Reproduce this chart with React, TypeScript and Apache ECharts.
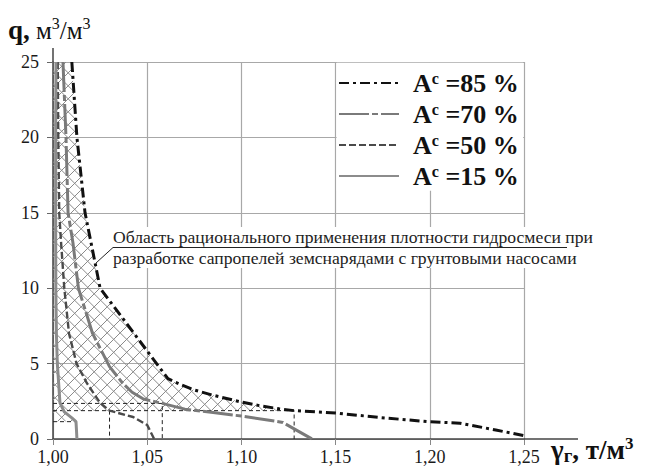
import React, { useEffect, useRef } from 'react';
import * as echarts from 'echarts';

// ---- data ----
const xTicks = [1.0, 1.05, 1.1, 1.15, 1.2, 1.25];
const yTicks = [0, 5, 10, 15, 20, 25];
const shares = ['85', '70', '50', '15'];

const gamma85 = [1.010, 1.0127, 1.017, 1.0223, 1.025, 1.043, 1.061, 1.068, 1.075, 1.085, 1.095, 1.100, 1.110, 1.120, 1.128, 1.150, 1.174, 1.200, 1.216, 1.235, 1.250, 1.256];
const q85 = [25, 20, 15, 11.7, 10, 7, 4.0, 3.6, 3.25, 2.9, 2.6, 2.45, 2.2, 2.0, 1.88, 1.72, 1.42, 1.14, 1.05, 0.6, 0.22, 0];

const gamma70 = [1.0053, 1.0069, 1.008, 1.0106, 1.0135, 1.021, 1.030, 1.037, 1.042, 1.048, 1.058, 1.070, 1.085, 1.100, 1.122, 1.1375];
const q70 = [25, 20, 15, 13, 10, 7, 4.8, 3.7, 3.1, 2.65, 2.36, 1.98, 1.75, 1.52, 1.1, 0];

const gamma50 = [1.0025, 1.0028, 1.0033, 1.0043, 1.006, 1.0085, 1.0125, 1.018, 1.025, 1.030, 1.0425, 1.050, 1.0537];
const q50 = [25, 20, 15, 13, 10, 7, 5, 3.7, 2.4, 1.88, 1.46, 0.93, 0];

const gamma15 = [1.0016, 1.0014, 1.0014, 1.0015, 1.0018, 1.0023, 1.0037, 1.006, 1.010, 1.0122, 1.0125, 1.0127];
const q15 = [25, 20, 15, 10, 7, 5, 2.4, 1.8, 1.4, 1.15, 0.5, 0];

// construction (reference) dashed lines
const refLines = [
  [[1.0, 2.36], [1.058, 2.36], [1.058, 0]],
  [[1.0, 1.88], [1.128, 1.88], [1.128, 0]],
  [[1.03, 1.88], [1.03, 0]],
  [[1.0, 1.15], [1.0122, 1.15]],
];

const annotation = [
  'Область рационального применения плотности гидросмеси при',
  'разработке сапропелей земснарядами с грунтовыми насосами',
];

const zip = (xs: number[], ys: number[]) => xs.map((x, i) => [x, ys[i]]);

// hatched region: left of the 85 % curve, above q = 1.88 (plus small strip near the axis)
const hatchPoly: number[][] = [
  ...zip(gamma85, q85).filter((p) => p[1] >= 1.88),
  [1.0055, 1.88],
  ...zip(gamma15, q15).filter((p) => p[1] < 1.88 && p[1] >= 1.15),
  [1.0, 1.15],
  [1.0, 25],
];

const FONT = '"Liberation Serif", "Times New Roman", serif';
const GL = 53, GT = 62, GR = 524, GB = 439;

export default function App() {
  const ref = useRef<HTMLDivElement>(null);
  useEffect(() => {
    document.body.style.margin = '0';
    const chart = echarts.init(ref.current!, null, { renderer: 'svg' });
    const names = shares.map((s) => `Ac =${s} %`);
    const styles = [
      { color: '#111', width: 3, type: [10, 4, 3, 4] },
      { color: '#7a7a7a', width: 3, type: [30, 3, 6, 3] },
      { color: '#4a4a4a', width: 2.4, type: [7, 3] },
      { color: '#8c8c8c', width: 3, type: 'solid' },
    ];
    const curves = [zip(gamma85, q85), zip(gamma70, q70), zip(gamma50, q50), zip(gamma15, q15)];

    const option: any = {
      animation: false,
      grid: { left: GL, top: GT, right: 646 - GR, bottom: 468 - GB },
      xAxis: {
        type: 'value', min: xTicks[0], max: xTicks[xTicks.length - 1], interval: 0.05,
        axisLine: { show: true, onZero: false, lineStyle: { color: '#444', width: 1.5 } },
        axisTick: { show: true, length: 6, lineStyle: { color: '#888' } },
        axisLabel: {
          margin: 10, fontFamily: FONT, fontSize: 18, lineHeight: 15, color: '#1a1a1a',
          formatter: (v: number) => v.toFixed(2).replace('.', ','),
        },
        splitLine: { show: true, lineStyle: { color: '#a8a8a8', width: 1.2 } },
      },
      yAxis: {
        type: 'value', min: yTicks[0], max: yTicks[yTicks.length - 1], interval: 5,
        axisLine: { show: true, lineStyle: { color: '#444', width: 1.5 } },
        axisTick: { show: true, length: 6, lineStyle: { color: '#666' } },
        axisLabel: { margin: 14, fontFamily: FONT, fontSize: 18, lineHeight: 15, color: '#1a1a1a' },
        splitLine: { show: true, lineStyle: { color: '#a8a8a8', width: 1.2 } },
      },
      legend: {
        data: names, orient: 'vertical', left: 338, top: 70, padding: 0,
        itemWidth: 60, itemHeight: 14, itemGap: 5, z: 10,
        itemStyle: { opacity: 0 },
        formatter: (name: string) => `{a|A}{s|c}{a|${name.slice(2)}}`,
        textStyle: {
          padding: [0, 0, 0, 9],
          rich: {
            a: { fontFamily: FONT, fontWeight: 'bold', fontSize: 26, color: '#111', lineHeight: 26 },
            s: { fontFamily: FONT, fontWeight: 'bold', fontSize: 16, color: '#111', lineHeight: 14, verticalAlign: 'top' },
          },
        },
      },
      series: [
        {
          type: 'custom', name: 'hatch', silent: true, z: 1,
          data: [[1, 0]],
          renderItem: (_p: any, api: any) => {
            const pts = hatchPoly.map((p) => api.coord(p));
            const xs = pts.map((p: number[]) => p[0]);
            const ys = pts.map((p: number[]) => p[1]);
            const minX = Math.min(...xs), maxX = Math.max(...xs);
            const minY = Math.min(...ys), maxY = Math.max(...ys);
            const h = maxY - minY;
            const step = 13;
            const children: any[] = [];
            const st = { stroke: '#8a8a8a', lineWidth: 1 };
            for (let c = minX - h; c < maxX + h; c += step) {
              children.push({ type: 'line', shape: { x1: c, y1: minY, x2: c + h, y2: maxY }, style: st });
              children.push({ type: 'line', shape: { x1: c, y1: maxY, x2: c + h, y2: minY }, style: st });
            }
            return { type: 'group', clipPath: { type: 'polygon', shape: { points: pts } }, children };
          },
        },
        ...refLines.map((d) => ({
          type: 'line', data: d, symbol: 'none', silent: true, z: 2,
          lineStyle: { color: '#222', width: 1, type: [4, 3] },
        })),
        ...curves.map((d, i) => ({
          type: 'line', name: names[i], data: d, symbol: 'none', showSymbol: false, z: 3 + i,
          lineStyle: styles[i], itemStyle: { color: styles[i].color },
        })),
      ],
      graphic: [
        { type: 'line', shape: { x1: GL, y1: 48, x2: GL, y2: GT }, style: { stroke: '#444', lineWidth: 1.5 }, z: 3 },
        { type: 'line', shape: { x1: GR, y1: GB, x2: 578, y2: GB }, style: { stroke: '#444', lineWidth: 1.5 }, z: 3 },
        { type: 'rect', shape: { x: 336.6, y: GT + 0.8, width: GR - 337.4, height: 128 }, style: { fill: '#fff' }, z: 3 },
        {
          type: 'text', x: 109, y: 227, z: 6,
          style: {
            text: annotation.join('\n'), fontFamily: FONT, fontSize: 17.6, lineHeight: 20.5, fill: '#222',
            backgroundColor: '#fff', padding: [0, 3, 0, 4],
          },
        },
        { type: 'line', shape: { x1: 113, y1: 247.5, x2: 567, y2: 247.5 }, style: { stroke: '#222', lineWidth: 1 }, z: 7 },
        { type: 'line', shape: { x1: 113, y1: 247.5, x2: 96, y2: 263 }, style: { stroke: '#222', lineWidth: 1 }, z: 7 },
        {
          type: 'text', x: 8, y: 15, z: 6,
          style: {
            text: '{q|q,}{m| м}{s|3}{m|/м}{s|3}',
            rich: {
              q: { fontFamily: FONT, fontWeight: 'bold', fontSize: 27, lineHeight: 30, fill: '#111' },
              m: { fontFamily: FONT, fontSize: 25, lineHeight: 30, fill: '#111' },
              s: { fontFamily: FONT, fontSize: 16, lineHeight: 16, fill: '#111', verticalAlign: 'top' },
            },
          },
        },
        {
          type: 'text', x: 551, y: 435, z: 6,
          style: {
            text: '{g|γ}{u|г}{g|, т/м}{s|3}',
            rich: {
              g: { fontFamily: FONT, fontWeight: 'bold', fontSize: 27, lineHeight: 30, fill: '#111' },
              u: { fontFamily: FONT, fontWeight: 'bold', fontSize: 19, lineHeight: 25, fill: '#111', verticalAlign: 'bottom' },
              s: { fontFamily: FONT, fontWeight: 'bold', fontSize: 17, lineHeight: 16, fill: '#111', verticalAlign: 'top' },
            },
          },
        },
      ],
    };
    chart.setOption(option);
    return () => chart.dispose();
  }, []);
  return <div ref={ref} style={{ width: 646, height: 468 }} />;
}
